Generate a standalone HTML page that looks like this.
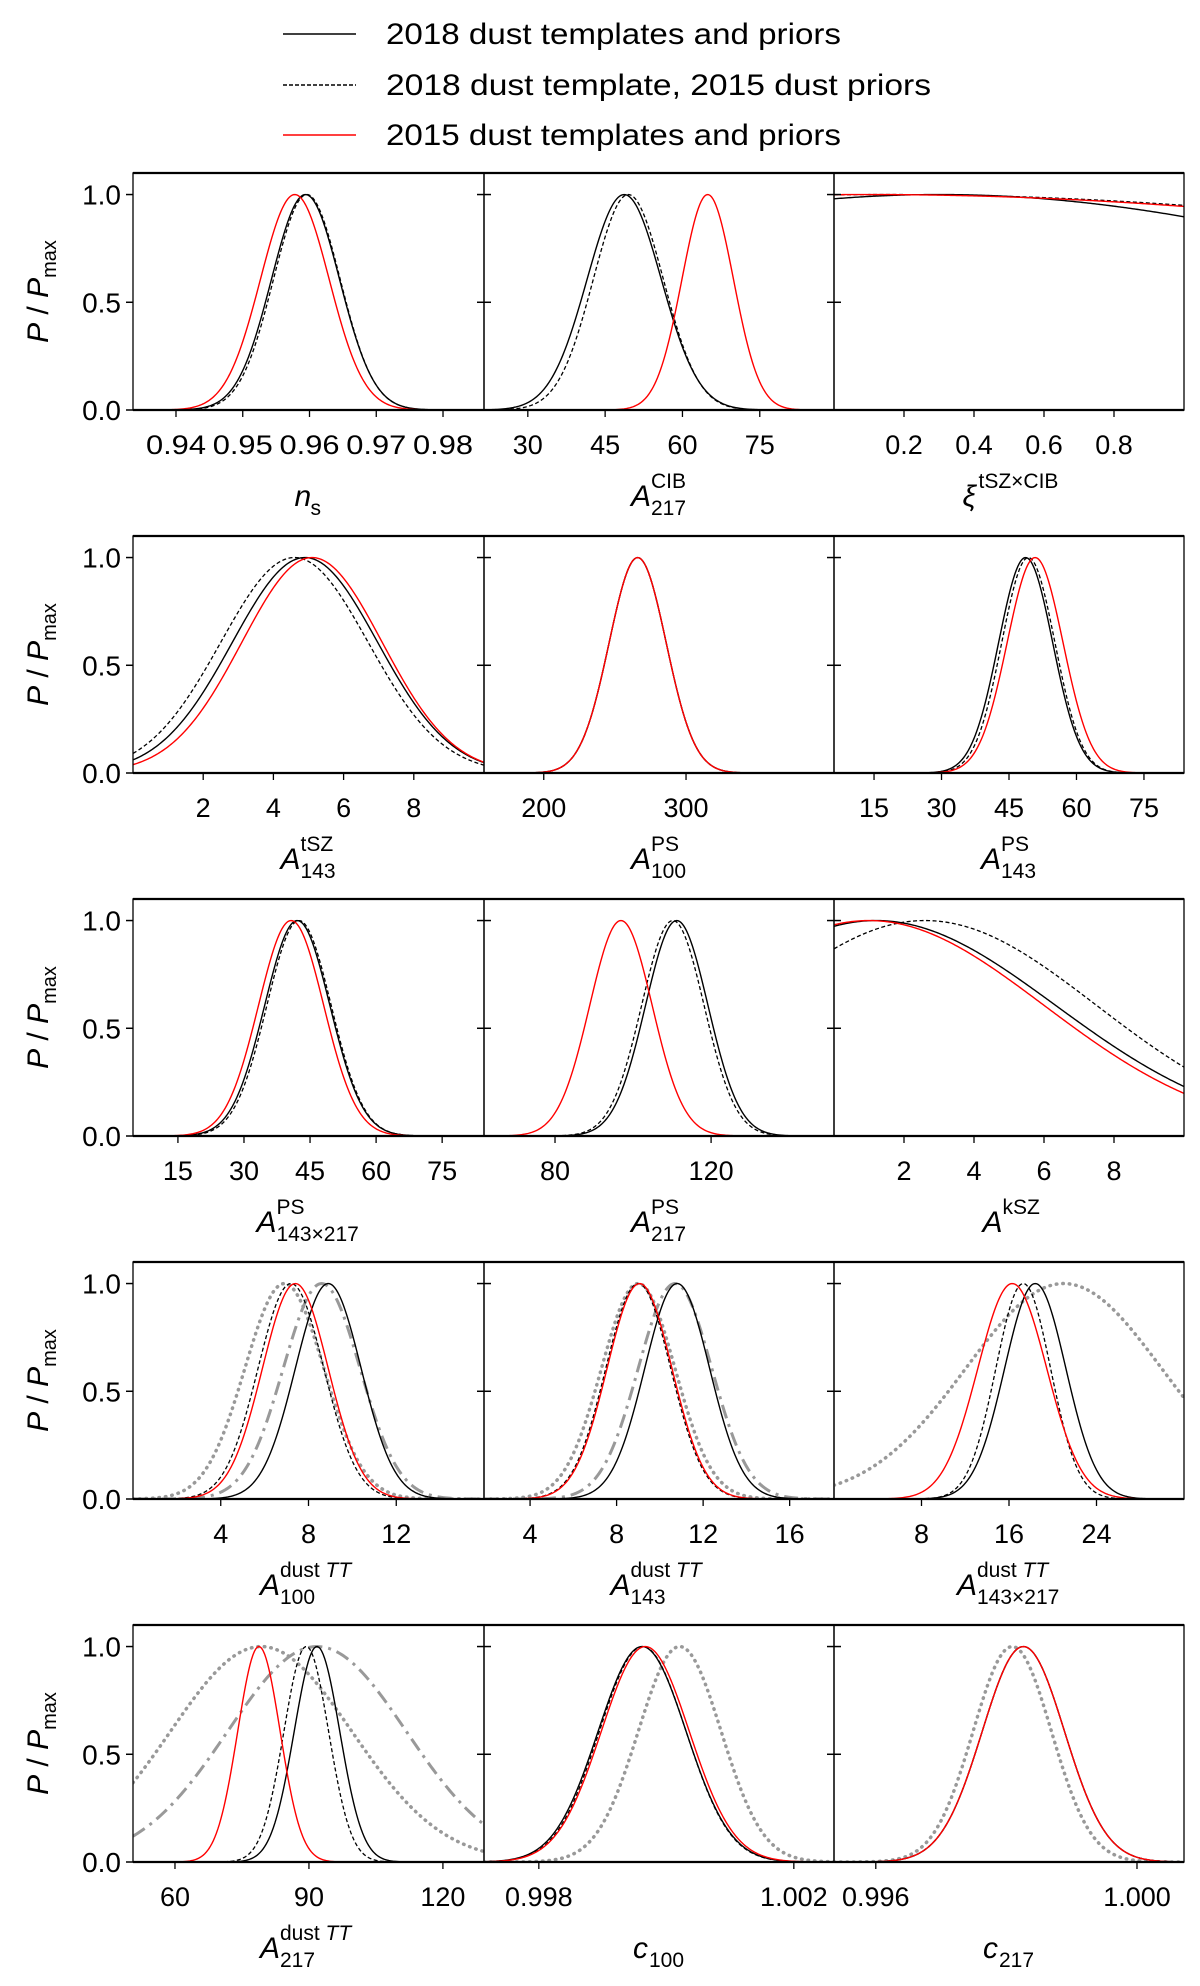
<!DOCTYPE html>
<html><head><meta charset="utf-8"><style>
html,body{margin:0;padding:0;background:#fff;}
svg{display:block;font-family:"Liberation Sans","DejaVu Sans",sans-serif;}
</style></head><body>
<svg id="fig" width="1200" height="1986" viewBox="0 0 1200 1986" xmlns="http://www.w3.org/2000/svg">
<g>
  <line x1="283" y1="34" x2="356" y2="34" stroke="#000" stroke-width="1.5"/>
  <text x="386" y="44" font-size="30" textLength="455" lengthAdjust="spacingAndGlyphs">2018 dust templates and priors</text>
  <line x1="283" y1="85" x2="356" y2="85" stroke="#000" stroke-width="1.5" stroke-dasharray="4,2"/>
  <text x="386" y="95" font-size="30" textLength="545" lengthAdjust="spacingAndGlyphs">2018 dust template, 2015 dust priors</text>
  <line x1="283" y1="135" x2="356" y2="135" stroke="#f00" stroke-width="1.5"/>
  <text x="386" y="145" font-size="30" textLength="455" lengthAdjust="spacingAndGlyphs">2015 dust templates and priors</text>
</g>
<g id="panels"></g>
</svg>
<script>
const xMin = [0.93356,21.5,0, 0,158,6.1, 4.8,61.8,0, 0,1.87,0, 50.6,0.99714,0.99536];
const xMax = [0.98614,89.4,1.0, 10,404,83.9, 84.5,151.5,10, 16,18.05,32, 129.2,1.00263,1.00072];
const tickVals = [[0.94,0.95,0.96,0.97,0.98],[30,45,60,75],[0.2,0.4,0.6,0.8],
 [2,4,6,8],[200,300],[15,30,45,60,75],
 [15,30,45,60,75],[80,120],[2,4,6,8],
 [4,8,12],[4,8,12,16],[8,16,24],
 [60,90,120],[0.998,1.002],[0.996,1.000]];
const tickLabels = [["0.94","0.95","0.96","0.97","0.98"],["30","45","60","75"],["0.2","0.4","0.6","0.8"],
 ["2","4","6","8"],["200","300"],["15","30","45","60","75"],
 ["15","30","45","60","75"],["80","120"],["2","4","6","8"],
 ["4","8","12"],["4","8","12","16"],["8","16","24"],
 ["60","90","120"],["0.998","1.002"],["0.996","1.000"]];
const blackMu = [0.9594,48.7,0.3, 4.9,266,48.7, 42.1,111.2,1.2, 8.9,10.8,18.4, 91.8,0.99962,0.99826];
const blackSd = [0.0051,7.2,1.5, 2.07,20,6.0, 7.4,8.0,5.13, 1.5,1.5,2.8, 5.1,0.00069,0.00063];
const dashMu  = [0.9596,49.5,0.15, 4.6,266,49.3, 42.5,110.2,2.6, 7.2,9.0,17.3, 89.4,0.99963,0.99826];
const dashSd  = [0.0050,6.8,2.65, 2.1,20,5.9, 7.3,8.0,4.9, 1.5,1.5,2.5, 5.0,0.00068,0.00063];
const redMu   = [0.9578,64.9,0.1, 5.1,266,50.8, 40.7,96.9,1.0, 7.4,9.06,16.3, 78.8,0.99967,0.99826];
const redSd   = [0.00515,5.0,2.67, 2.0,20,6.2, 7.4,8.0,5.0, 1.5,1.5,3.15, 4.75,0.00069,0.00063];
const dotMu   = [null,null,null, null,null,null, null,null,null, 6.9,9.0,21, 79.3,1.00021,0.99809];
const dotSd   = [null,null,null, null,null,null, null,null,null, 1.8,1.7,8.95, 20.3,0.00065,0.0006];
const ddMu    = [null,null,null, null,null,null, null,null,null, 8.6,10.7,null, 91.8,null,null];
const ddSd    = [null,null,null, null,null,null, null,null,null, 1.75,1.7,null, 20,null,null];
const yTicks = [0,0.5,1.0];
const yTickLabels = ["0.0","0.5","1.0"];
const axisLabels = [
 ["n",true,"","s"],["A",true,"CIB","217"],["ξ",true,"tSZ×CIB",""],
 ["A",true,"tSZ","143"],["A",true,"PS","100"],["A",true,"PS","143"],
 ["A",true,"PS","143×217"],["A",true,"PS","217"],["A",true,"kSZ",""],
 ["A",true,"dust TT","100"],["A",true,"dust TT","143"],["A",true,"dust TT","143×217"],
 ["A",true,"dust TT","217"],["c",true,"","100"],["c",true,"","217"]];

const NS="http://www.w3.org/2000/svg";
const root=document.getElementById('panels');
const colX=[133,484,834,1184];
const rowTop=173, rowPitch=363, ph=237, yMax=1.1;
function mk(tag,attrs,parent){const e=document.createElementNS(NS,tag);for(const k in attrs)e.setAttribute(k,attrs[k]);parent.appendChild(e);return e;}
const styles={
 black:{stroke:"#000","stroke-width":1.4},
 dash:{stroke:"#000","stroke-width":1.3,"stroke-dasharray":"4,2.5"},
 red:{stroke:"#f00","stroke-width":1.4},
 dot:{stroke:"#999","stroke-width":3.5,"stroke-dasharray":"0.5,6","stroke-linecap":"round"},
 dd:{stroke:"#999","stroke-width":3,"stroke-dasharray":"14,6,3,6"}
};
for(let p=0;p<15;p++){
  const r=Math.floor(p/3), c=p%3;
  const x0=colX[c], x1=colX[c+1], y0=rowTop+r*rowPitch, y1=y0+ph;
  const sx=v=>x0+(v-xMin[p])/(xMax[p]-xMin[p])*(x1-x0);
  const sy=v=>y1-v/yMax*ph;
  const g=mk('g',{},root);
  
  
  const cid='clip'+p;
  const cp=mk('clipPath',{id:cid},g);mk('rect',{x:x0,y:y0,width:x1-x0,height:ph},cp);
  const cg=mk('g',{'clip-path':'url(#'+cid+')'},g);
  const order=[['dot',dotMu,dotSd],['dd',ddMu,ddSd],['black',blackMu,blackSd],['dash',dashMu,dashSd],['red',redMu,redSd]];
  for(const [nm,mu,sd] of order){
    if(mu[p]===null)continue;
    let d='';
    for(let i=0;i<=240;i++){
      const xv=xMin[p]+(xMax[p]-xMin[p])*i/240;
      const yv=Math.exp(-Math.pow(xv-mu[p],2)/(2*sd[p]*sd[p]));
      d+=(i?'L':'M')+sx(xv).toFixed(2)+','+sy(yv).toFixed(2);
    }
    const a=Object.assign({d:d,fill:'none'},styles[nm]);
    const path=mk('path',a,cg);
    
    
  }
  const fr=mk('rect',{x:x0,y:y0,width:x1-x0,height:ph,fill:'none',stroke:'#000','stroke-width':1.3},g);
  
  
  mk('line',{x1:x0,y1:y0,x2:x1,y2:y0,stroke:'#000','stroke-width':2.2},g);
  mk('line',{x1:x0,y1:y1,x2:x1,y2:y1,stroke:'#000','stroke-width':2.2},g);
  for(let k=0;k<yTicks.length;k++){
    const yy=sy(yTicks[k]);
    mk('line',{x1:x0-7,y1:yy,x2:c===0?x0:x0+7,y2:yy,stroke:'#000','stroke-width':1.5},g);
    if(c===0){
      const t=mk('text',{x:x0-12,y:yy+10,'font-size':28,'text-anchor':'end'},g);
      t.textContent=yTickLabels[k];
      
      
    }
  }
  for(let k=0;k<tickVals[p].length;k++){
    const xx=sx(tickVals[p][k]);
    mk('line',{x1:xx,y1:y1,x2:xx,y2:y1+7,stroke:'#000','stroke-width':1.3},g);
    const t=mk('text',{x:xx,y:y1+44,'font-size':27,'text-anchor':'middle'},g);
    t.textContent=tickLabels[p][k];
    if(p===0){t.setAttribute('textLength','60');t.setAttribute('lengthAdjust','spacingAndGlyphs');}
    
    
  }
  const L=axisLabels[p];
  const cx=(x0+x1)/2, by=y1+96;
  const lg=mk('g',{},g);
  
  
  const mainW=L[0]==='A'?20:16;
  const subW=Math.max(L[2].length*11,L[3].length*12);
  const sx0=cx-(mainW+subW)/2;
  const m=mk('text',{x:sx0,y:by,'font-size':30,'font-style':'italic'},lg);m.textContent=L[0];
  if(L[2]){const s=mk('text',{x:sx0+mainW,y:by-18,'font-size':21},lg);
    if(L[2].indexOf('TT')>=0){s.textContent='dust ';const ts=mk('tspan',{'font-style':'italic'},s);ts.textContent='TT';}
    else s.textContent=L[2];}
  if(L[3]){const s=mk('text',{x:sx0+mainW,y:by+9,'font-size':21},lg);s.textContent=L[3];}
  if(c===0){
    const yc=(y0+y1)/2;
    const t=mk('text',{x:0,y:0,'font-size':30,'text-anchor':'middle',transform:'translate(48,'+yc+') rotate(-90)'},g);
    
    
    const a1=mk('tspan',{'font-style':'italic'},t);a1.textContent='P';
    const a2=mk('tspan',{},t);a2.textContent=' / ';
    const a3=mk('tspan',{'font-style':'italic'},t);a3.textContent='P';
    const a4=mk('tspan',{'font-size':20,dy:8},t);a4.textContent='max';
  }
}
</script>
</body></html>
